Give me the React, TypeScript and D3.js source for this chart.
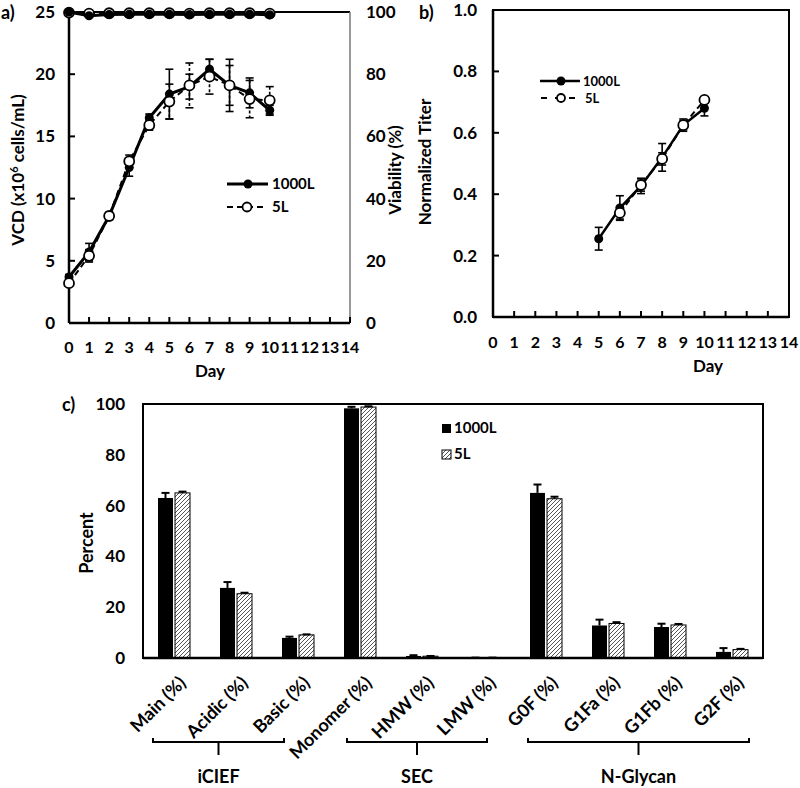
import React from 'react';
import * as d3 from 'd3';

// ---------- DATA ----------
const days = [0, 1, 2, 3, 4, 5, 6, 7, 8, 9, 10];
const vcd1000 = [3.7, 5.7, 8.6, 12.5, 16.5, 18.4, 19.0, 20.4, 19.1, 18.5, 17.1];
const vcd1000Err = [0.2, 0.7, 0.3, 0.7, 0.3, 2.0, 1.0, 0.8, 2.1, 1.2, 0.4];
const vcd5 = [3.2, 5.4, 8.6, 13.0, 15.9, 17.8, 19.1, 19.8, 19.1, 18.0, 17.9];
const vcd5Err = [0.1, 0.5, 0.2, 0.5, 0.4, 1.4, 1.8, 1.4, 1.6, 1.5, 1.1];
const via1000 = [100, 98.8, 99.2, 99.3, 99.3, 99.3, 99.2, 99.3, 99.3, 99.3, 99.1];
const via5 = [99.8, 99.5, 99.6, 99.6, 99.6, 99.6, 99.5, 99.6, 99.6, 99.6, 99.5];

const titerDays1000 = [5, 6, 7, 8, 9, 10];
const titer1000 = [0.255, 0.355, 0.427, 0.52, 0.625, 0.68];
const titer1000Err = [0.037, 0.04, 0.025, 0.045, 0.02, 0.025];
const titerDays5 = [6, 7, 8, 9, 10];
const titer5 = [0.339, 0.43, 0.515, 0.625, 0.707];
const titer5Err = [0.02, 0.02, 0.02, 0.015, 0.01];

const dayTicks = d3.range(0, 15);
const vcdTicks = [0, 5, 10, 15, 20, 25];
const viaTicks = [0, 20, 40, 60, 80, 100];
const titerTicks = [0, 0.2, 0.4, 0.6, 0.8, 1.0];
const pctTicks = [0, 20, 40, 60, 80, 100];

const categories = ['Main (%)', 'Acidic (%)', 'Basic (%)', 'Monomer (%)', 'HMW (%)', 'LMW (%)', 'G0F (%)', 'G1Fa (%)', 'G1Fb (%)', 'G2F (%)'];
const seriesNames = ['1000L', '5L'];
const pct1000 = [63.0, 27.6, 7.9, 98.3, 0.8, 0.1, 65.0, 12.8, 12.2, 2.4];
const pct1000Err = [2.0, 2.3, 0.5, 0.6, 0.3, 0.05, 3.3, 2.3, 1.3, 1.5];
const pct5 = [65.0, 25.3, 9.1, 98.8, 0.7, 0.1, 62.7, 13.6, 13.0, 3.3];
const pct5Err = [0.5, 0.4, 0.2, 0.3, 0.1, 0.05, 0.8, 0.5, 0.4, 0.3];
const groupLabels = ['iCIEF', 'SEC', 'N-Glycan'];
const groupFirst = [0, 3, 6];
const groupLast = [2, 5, 9];

// ---------- LAYOUT ----------
const FONT = "Lato, 'Open Sans', sans-serif";
const bracketPad = [[-21, -14], [-13, 3], [-18, 17]];

const ax = d3.scaleLinear([0, 14], [69, 350]);
const ay = d3.scaleLinear([0, 25], [323, 12]);
const ayR = d3.scaleLinear([0, 100], [323, 12]);
const bx = d3.scaleLinear([0, 14], [493, 789]);
const by = d3.scaleLinear([0, 1], [317, 10]);
const cx = d3.scaleBand<string>(categories, [143, 763]);
const cy = d3.scaleLinear([0, 100], [658, 404]);
const sub = d3.scaleBand<string>(seriesNames, [cx.bandwidth() / 2 - 16, cx.bandwidth() / 2 + 16]).paddingInner(0.12);

function ErrBars({ xs, ys, es, xS, yS, dashed, cap = 4 }: any) {
  return (
    <g stroke="#000" strokeWidth={1.6}>
      {xs.map((d: number, i: number) => {
        const x = xS(d);
        const y1 = yS(ys[i] + es[i]);
        const y2 = yS(ys[i] - es[i]);
        return (
          <g key={i}>
            <line x1={x} x2={x} y1={y1} y2={y2} strokeDasharray={dashed ? '3,2' : undefined} />
            <line x1={x - cap} x2={x + cap} y1={y1} y2={y1} />
            <line x1={x - cap} x2={x + cap} y1={y2} y2={y2} />
          </g>
        );
      })}
    </g>
  );
}

function Series({ xs, ys, xS, yS, filled, width }: any) {
  const line = d3.line<number>().x((_, i) => xS(xs[i])).y((d) => yS(d));
  return (
    <g>
      <path d={line(ys) || ''} fill="none" stroke="#000" strokeWidth={width}
        strokeDasharray={filled ? undefined : '6,4'} />
      {xs.map((d: number, i: number) =>
        filled ? (
          <circle key={i} cx={xS(d)} cy={yS(ys[i])} r={4.5} fill="#000" />
        ) : (
          <circle key={i} cx={xS(d)} cy={yS(ys[i])} r={5} fill="#fff" stroke="#000" strokeWidth={1.8} />
        )
      )}
    </g>
  );
}

export default function App() {
  const tickFont = { fontFamily: FONT, fontWeight: 700, fontSize: 17 } as any;
  const dayFont = { fontFamily: FONT, fontWeight: 700, fontSize: 16 } as any;
  const titleFont = { fontFamily: FONT, fontWeight: 700, fontSize: 17 } as any;
  const legFont = { fontFamily: FONT, fontWeight: 700, fontSize: 15 } as any;
  const bw = sub.bandwidth();
  return (
    <svg width={800} height={788} style={{ position: 'absolute', left: 0, top: 0, background: '#fff' }}>
      <defs>
        <pattern id="hatch" patternUnits="userSpaceOnUse" width={4} height={4}>
          <rect width={4} height={4} fill="#fff" />
          <path d="M-1,1 l2,-2 M0,4 l4,-4 M3,5 l2,-2" stroke="#555" strokeWidth={1} />
        </pattern>
      </defs>
      <rect width={800} height={788} fill="#fff" />

      {/* ---------- Panel a ---------- */}
      <text x={1} y={19} {...tickFont} fontSize={18}>a)</text>
      <line x1={ax(0)} x2={ax(14)} y1={ay(25)} y2={ay(25)} stroke="#000" strokeWidth={2} />
      <line x1={ax(14)} x2={ax(14)} y1={ay(25)} y2={ay(0)} stroke="#777" strokeWidth={1.5} />
      <line x1={ax(0)} x2={ax(0)} y1={ay(25)} y2={ay(0)} stroke="#000" strokeWidth={2.5} />
      <line x1={ax(0)} x2={ax(14)} y1={ay(0)} y2={ay(0)} stroke="#000" strokeWidth={2.5} />
      {vcdTicks.map((t) => (
        <g key={t}>
          <line x1={ax(0)} x2={ax(0) + 6} y1={ay(t)} y2={ay(t)} stroke="#000" strokeWidth={2} />
          <text x={55} y={ay(t)} dy="0.35em" textAnchor="end" {...tickFont}>{t}</text>
        </g>
      ))}
      {viaTicks.map((t) => (
        <text key={t} x={366} y={ayR(t)} dy="0.35em" {...tickFont}>{t}</text>
      ))}
      {dayTicks.map((t) => (
        <g key={t}>
          {t > 0 && <line x1={ax(t)} x2={ax(t)} y1={ay(0)} y2={ay(0) - 6} stroke="#000" strokeWidth={2} />}
          <text x={ax(t)} y={347} dy="0.35em" textAnchor="middle" {...dayFont}>{t}</text>
        </g>
      ))}
      <text x={210} y={377} textAnchor="middle" {...titleFont}>Day</text>
      <text transform="translate(24,170) rotate(-90)" textAnchor="middle" {...titleFont}>
        VCD (x10<tspan dy={-6} fontSize={11}>6</tspan><tspan dy={6}> cells/mL)</tspan>
      </text>
      <text transform="translate(401,170) rotate(-90)" textAnchor="middle" {...titleFont}>Viability (%)</text>

      <ErrBars xs={days} ys={vcd5} es={vcd5Err} xS={ax} yS={ay} dashed />
      <ErrBars xs={days} ys={vcd1000} es={vcd1000Err} xS={ax} yS={ay} />
      <Series xs={days} ys={via5} xS={ax} yS={ayR} filled={false} width={2} />
      <Series xs={days} ys={via1000} xS={ax} yS={ayR} filled width={3} />
      <Series xs={days} ys={vcd1000} xS={ax} yS={ay} filled width={3} />
      <Series xs={days} ys={vcd5} xS={ax} yS={ay} filled={false} width={2} />

      {/* legend a */}
      <line x1={227} x2={268} y1={184} y2={184} stroke="#000" strokeWidth={3} />
      <circle cx={248} cy={184} r={4.5} fill="#000" />
      <text x={272} y={184} dy="0.35em" {...legFont}>1000L</text>
      <line x1={227} x2={266} y1={207} y2={207} stroke="#000" strokeWidth={2} strokeDasharray="6,4" />
      <circle cx={247} cy={207} r={4.5} fill="#fff" stroke="#000" strokeWidth={1.8} />
      <text x={272} y={207} dy="0.35em" {...legFont}>5L</text>

      {/* ---------- Panel b ---------- */}
      <text x={419} y={19} {...tickFont} fontSize={18}>b)</text>
      <rect x={bx(0)} y={by(1)} width={bx(14) - bx(0)} height={by(0) - by(1)} fill="none" stroke="#000" strokeWidth={2} />
      <line x1={bx(0)} x2={bx(0)} y1={by(1)} y2={by(0)} stroke="#000" strokeWidth={2.5} />
      <line x1={bx(0)} x2={bx(14)} y1={by(0)} y2={by(0)} stroke="#000" strokeWidth={2.5} />
      {titerTicks.map((t) => (
        <g key={t}>
          <line x1={bx(0)} x2={bx(0) + 6} y1={by(t)} y2={by(t)} stroke="#000" strokeWidth={2} />
          <text x={477} y={by(t)} dy="0.35em" textAnchor="end" {...tickFont}>{t.toFixed(1)}</text>
        </g>
      ))}
      {dayTicks.map((t) => (
        <g key={t}>
          {t > 0 && <line x1={bx(t)} x2={bx(t)} y1={by(0)} y2={by(0) - 6} stroke="#000" strokeWidth={2} />}
          <text x={bx(t)} y={342} dy="0.35em" textAnchor="middle" {...dayFont}>{t}</text>
        </g>
      ))}
      <text x={708} y={372} textAnchor="middle" {...titleFont}>Day</text>
      <text transform="translate(431,162) rotate(-90)" textAnchor="middle" {...titleFont}>Normalized Titer</text>

      <ErrBars xs={titerDays5} ys={titer5} es={titer5Err} xS={bx} yS={by} />
      <ErrBars xs={titerDays1000} ys={titer1000} es={titer1000Err} xS={bx} yS={by} />
      <Series xs={titerDays1000} ys={titer1000} xS={bx} yS={by} filled width={2.5} />
      <Series xs={titerDays5} ys={titer5} xS={bx} yS={by} filled={false} width={2} />

      {/* legend b */}
      <line x1={540} x2={580} y1={81} y2={81} stroke="#000" strokeWidth={2.5} />
      <circle cx={561} cy={81} r={4.5} fill="#000" />
      <text x={583} y={81} dy="0.35em" {...legFont} fontSize={13}>1000L</text>
      <line x1={540} x2={582} y1={98} y2={98} stroke="#000" strokeWidth={2} strokeDasharray="6,8" strokeDashoffset={-1} />
      <circle cx={561} cy={98} r={4} fill="#fff" stroke="#000" strokeWidth={1.8} />
      <text x={585} y={98} dy="0.35em" {...legFont} fontSize={13}>5L</text>

      {/* ---------- Panel c ---------- */}
      <text x={62} y={411} {...tickFont} fontSize={18}>c)</text>
      <rect x={143} y={cy(100)} width={620} height={cy(0) - cy(100)} fill="none" stroke="#000" strokeWidth={2} />
      {pctTicks.map((t) => (
        <text key={t} x={125} y={cy(t)} dy="0.35em" textAnchor="end" {...tickFont}>{t}</text>
      ))}
      <text transform="translate(93,543) rotate(-90)" textAnchor="middle" {...titleFont} fontSize={18}>Percent</text>

      {categories.map((c, i) => {
        const x0 = cx(c)!;
        const xa = x0 + sub('1000L')!;
        const xb = x0 + sub('5L')!;
        return (
          <g key={c}>
            <rect x={xa} y={cy(pct1000[i])} width={bw} height={cy(0) - cy(pct1000[i])} fill="#000" />
            <rect x={xb} y={cy(pct5[i])} width={bw} height={cy(0) - cy(pct5[i])} fill="url(#hatch)" stroke="#000" strokeWidth={1} />
            <g stroke="#000" strokeWidth={2}>
              <line x1={xa + bw / 2} x2={xa + bw / 2} y1={cy(pct1000[i])} y2={cy(pct1000[i] + pct1000Err[i])} />
              <line x1={xa + bw / 2 - 4} x2={xa + bw / 2 + 4} y1={cy(pct1000[i] + pct1000Err[i])} y2={cy(pct1000[i] + pct1000Err[i])} />
              <line x1={xb + bw / 2} x2={xb + bw / 2} y1={cy(pct5[i])} y2={cy(pct5[i] + pct5Err[i])} />
              <line x1={xb + bw / 2 - 4} x2={xb + bw / 2 + 4} y1={cy(pct5[i] + pct5Err[i])} y2={cy(pct5[i] + pct5Err[i])} />
            </g>
            <text transform={`translate(${x0 + cx.bandwidth() / 2 + 13},${684}) rotate(-45)`} textAnchor="end" {...titleFont} fontSize={18}>{c}</text>
          </g>
        );
      })}
      <line x1={143} x2={763} y1={cy(0)} y2={cy(0)} stroke="#000" strokeWidth={2.5} />

      {/* brackets */}
      {groupLabels.map((g, i) => {
        const x1 = cx(categories[groupFirst[i]])! + cx.bandwidth() / 2 + bracketPad[i][0];
        const x2 = cx(categories[groupLast[i]])! + cx.bandwidth() / 2 + bracketPad[i][1];
        const xm = (x1 + x2) / 2;
        return (
          <g key={g}>
            <path d={`M${x1},738 V742 H${x2} V738`} fill="none" stroke="#000" strokeWidth={2} />
            <line x1={xm} x2={xm} y1={742} y2={755} stroke="#000" strokeWidth={2} />
            <text x={xm} y={777} dy="0.35em" textAnchor="middle" {...titleFont} fontSize={18}>{g}</text>
          </g>
        );
      })}

      {/* legend c */}
      <rect x={442} y={424} width={9} height={9} fill="#000" />
      <text x={454} y={428} dy="0.35em" {...legFont}>1000L</text>
      <rect x={442} y={450} width={9} height={9} fill="url(#hatch)" stroke="#000" strokeWidth={1} />
      <text x={454} y={454} dy="0.35em" {...legFont}>5L</text>
    </svg>
  );
}
